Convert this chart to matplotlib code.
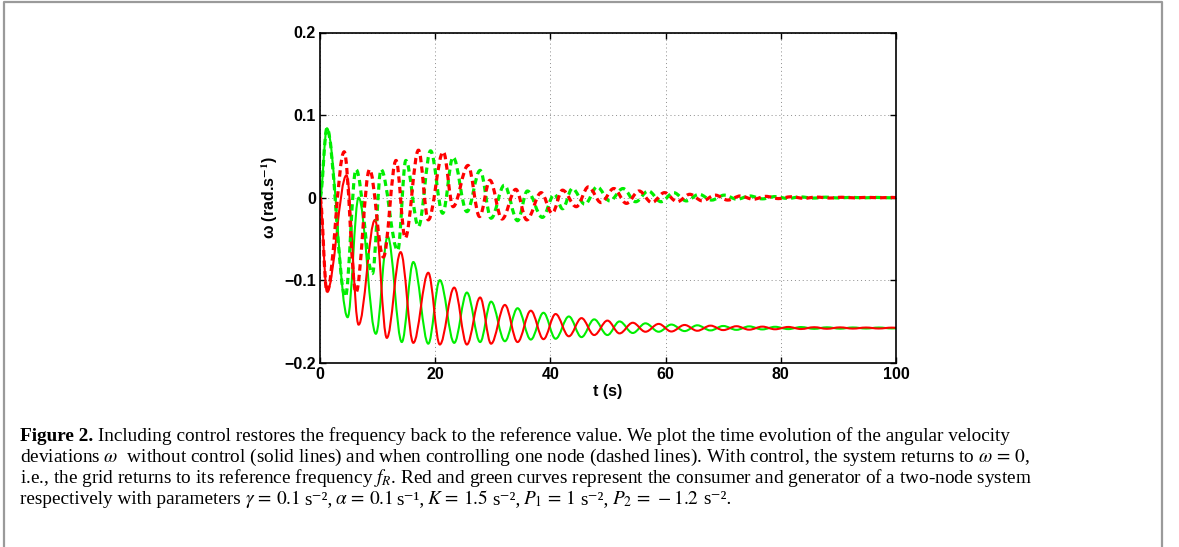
import matplotlib
matplotlib.use('Agg')
import matplotlib.pyplot as plt
from matplotlib.path import Path
from matplotlib.patches import PathPatch
from matplotlib.lines import Line2D

plt.rcParams['mathtext.fontset'] = 'stix'

# Extrema (time in s, omega in rad/s).
# Solid lines: no control.  Dashed lines: one node controlled.
t_red = [0, 1.2, 4.6, 6.7, 9.55, 11.6, 14.0, 16.2, 18.8, 20.8, 23.3, 25.5, 27.8,
         29.7, 32.1, 34.3, 36.6, 38.8, 40.9, 43.2, 45.4, 47.6, 49.9, 52.0, 54.3,
         56.5, 58.8, 61.0, 63.3, 65.5, 67.8, 70.0, 72.3, 74.5, 76.8, 79.0, 81.3,
         83.5, 85.8, 88.0, 90.3, 92.5, 94.8, 97.0, 99.3, 100]
w_red = [0, -0.114, 0.027, -0.154, -0.027, -0.170, -0.066, -0.176, -0.091, -0.178,
         -0.109, -0.178, -0.121, -0.177, -0.130, -0.175, -0.137, -0.1715, -0.141,
         -0.168, -0.146, -0.1665, -0.149, -0.1645, -0.1516, -0.1625, -0.153,
         -0.1622, -0.1543, -0.1613, -0.1551, -0.1605, -0.1558, -0.160, -0.1563,
         -0.1595, -0.1567, -0.1592, -0.157, -0.1589, -0.1572, -0.1587, -0.1574,
         -0.1586, -0.1575, -0.1577]

t_green = [0, 1.2, 4.8, 6.7, 9.7, 11.75, 14.2, 16.2, 18.8, 20.8, 23.3, 25.5, 27.8,
           29.7, 32.1, 34.3, 36.6, 38.8, 40.9, 43.2, 45.4, 47.6, 49.9, 52.0, 54.3,
           56.5, 58.8, 61.0, 63.3, 65.5, 67.8, 70.0, 72.3, 74.5, 76.8, 79.0, 81.3,
           83.5, 85.8, 88.0, 90.3, 92.5, 94.8, 97.0, 99.3, 100]
w_green = [0, 0.084, -0.145, 0.000, -0.165, -0.047, -0.175, -0.078, -0.177, -0.100,
           -0.176, -0.115, -0.175, -0.126, -0.174, -0.134, -0.172, -0.1395, -0.171,
           -0.144, -0.169, -0.1475, -0.1665, -0.150, -0.164, -0.1523, -0.1625,
           -0.1538, -0.1617, -0.1547, -0.1609, -0.1555, -0.1602, -0.156, -0.1597,
           -0.1565, -0.1593, -0.1568, -0.159, -0.1571, -0.1588, -0.1573, -0.1586,
           -0.1574, -0.1585, -0.1583]

t_red_c = [0, 1.2, 4.2, 6.25, 8.6, 11.0, 13.2, 14.8, 17.1, 18.8, 21.4, 23.1, 25.7,
           27.7, 29.5, 31.6, 34.0, 35.9, 38.4, 40.3, 42.1, 44.5, 46.6, 48.8, 51.0,
           53.2, 55.4, 57.6, 59.8, 62.0, 64.2, 66.4, 68.6, 70.8, 73.0, 75.2, 77.4,
           79.6, 81.8, 84.0, 86.2, 88.4, 90.6, 92.8, 95.0, 97.2, 99.4, 100]
w_red_c = [0, -0.114, 0.0555, -0.115, 0.034, -0.072, 0.045, -0.049, 0.0575, -0.027,
           0.0555, -0.011, 0.039, -0.023, 0.021, -0.026, 0.010, -0.027, 0.006,
           -0.019, 0.009, -0.011, 0.013, -0.006, 0.011, -0.007, 0.008, -0.006,
           0.006, -0.005, 0.004, -0.004, 0.003, -0.003, 0.002, -0.002, 0.0015,
           -0.0012, 0.001, -0.0008, 0.0006, -0.0005, 0.0004, -0.0003, 0.0003,
           -0.0002, 0.0002, 0]

t_green_c = [0, 1.2, 4.4, 6.25, 9.1, 10.6, 13.5, 14.9, 17.1, 19.2, 21.3, 23.1, 25.5,
             27.8, 29.7, 32.0, 34.3, 36.0, 38.6, 40.7, 42.1, 43.8, 46.0, 48.1, 50.3,
             52.6, 54.8, 57.0, 59.2, 61.4, 63.6, 65.8, 68.0, 70.2, 72.4, 74.6, 76.8,
             79.0, 81.2, 83.4, 85.6, 87.8, 90.0, 92.2, 94.4, 96.6, 98.8, 100]
w_green_c = [0, 0.084, -0.120, 0.034, -0.092, 0.034, -0.064, 0.045, -0.035, 0.0567,
             -0.019, 0.049, -0.017, 0.033, -0.025, 0.015, -0.028, 0.008, -0.024,
             0.004, -0.0135, 0.011, -0.008, 0.013, -0.004, 0.011, -0.005, 0.008,
             -0.005, 0.006, -0.004, 0.004, -0.003, 0.003, -0.002, 0.002, -0.0015,
             0.0012, -0.001, 0.0008, -0.0006, 0.0005, -0.0004, 0.0003, -0.0003,
             0.0002, -0.0002, 0]

xticks = [0, 20, 40, 60, 80, 100]
yticks = [-0.2, -0.1, 0, 0.1, 0.2]
ytick_labels = ['\u22120.2', '\u22120.1', '0', '0.1', '0.2']

RED = '#ff0000'
GREEN = '#00ee00'


def curve(ax, t, w, **kw):
    # smooth curve through the extrema, flat tangent at each one
    verts = [(t[0], w[0])]
    codes = [Path.MOVETO]
    for i in range(1, len(t)):
        d = 0.36 * (t[i] - t[i - 1])
        verts += [(t[i - 1] + d, w[i - 1]), (t[i] - d, w[i]), (t[i], w[i])]
        codes += [Path.CURVE4] * 3
    ax.add_patch(PathPatch(Path(verts, codes), fill=False, **kw))


fig = plt.figure(figsize=(11.79, 5.47), dpi=100)
ax = fig.add_axes([320 / 1179, 1 - 362.7 / 547, 576 / 1179, 330.2 / 547])

solid = dict(lw=1.5, joinstyle='round', capstyle='round')
dashed = dict(lw=2.3, linestyle=(0, (2.0, 1.3)), joinstyle='round', capstyle='butt')
curve(ax, t_green, w_green, edgecolor=GREEN, **solid)
curve(ax, t_red, w_red, edgecolor=RED, **solid)
curve(ax, t_green_c, w_green_c, edgecolor=GREEN, **dashed)
curve(ax, t_red_c, w_red_c, edgecolor=RED, **dashed)

ax.set_xlim(0, 100)
ax.set_ylim(-0.2, 0.2)
ax.set_xticks(xticks)
ax.set_xticklabels([str(x) for x in xticks])
ax.set_yticks(yticks)
ax.set_yticklabels(ytick_labels)
ax.tick_params(direction='in', length=4, width=1, top=True, right=True, pad=3,
               labelsize=11.5)
for lab in ax.get_xticklabels() + ax.get_yticklabels():
    lab.set_fontfamily('Liberation Sans')
    lab.set_fontweight('bold')
for s in ax.spines.values():
    s.set_linewidth(1.2)
ax.grid(True, color='0.55', lw=0.7, linestyle=(0, (1, 3)))
ax.set_axisbelow(True)

ax.set_xlabel('t (s)', fontsize=11.5, fontweight='bold', family='Liberation Sans')
ax.xaxis.set_label_coords(0.5, -0.064)
ax.set_ylabel(r'ω (rad.s$^{\mathbf{-1}}$)', fontsize=11.5, fontweight='bold',
              family='Liberation Sans')
ax.yaxis.set_label_coords(-0.07, 0.5)

# caption, written piece by piece: (text, gap after it in px, extra style)
cap_font = dict(family=['Liberation Serif', 'DejaVu Serif'], fontsize=13.9,
                va='baseline')
r = fig.canvas.get_renderer()


def put_line(y_px, pieces):
    x = 20
    for s, gap, kw in pieces:
        t = fig.text(x / 1179, 1 - y_px / 547, s, **cap_font, **kw)
        x = t.get_window_extent(r).x1 + gap


put_line(441, [('Figure 2.', 5, dict(fontweight='bold')),
               ('Including control restores the frequency back to the reference value. '
                'We plot the time evolution of the angular velocity', 0, {})])
put_line(462, [(r'deviations $\omega$  without control (solid lines) and when controlling one node '
                r'(dashed lines). With control, the system returns to $\omega\, =\, 0$,', 0, {})])
put_line(483, [(r'i.e., the grid returns to its reference frequency $f_R$. Red and green curves '
                r'represent the consumer and generator of a two-node system', 0, {})])
put_line(504.5, [('respectively with parameters', 4, {}),
                 (r'$\gamma\, =\, 0.1$', 4, {}), ('s\u207b\u00b2,', 2, {}),
                 (r'$\alpha\, =\, 0.1$', 4, {}), ('s\u207b\u00b9,', 2, {}),
                 (r'$K\, =\, 1.5$', 4, {}), ('s\u207b\u00b2,', 3, {}),
                 (r'$P_1\, =\, 1$', 4, {}), ('s\u207b\u00b2,', 4, {}),
                 (r'$P_2\, =\, -1.2$', 4, {}), ('s\u207b\u00b2.', 0, {})])

# border of the figure box
gray = '#9a9a9a'
fig.add_artist(Line2D([4 / 1179, 4 / 1179, 1162 / 1179, 1162 / 1179],
                      [0, 1 - 1.5 / 547, 1 - 1.5 / 547, 0],
                      color=gray, lw=1.6, transform=fig.transFigure))

fig.savefig('out.png', dpi=100)
